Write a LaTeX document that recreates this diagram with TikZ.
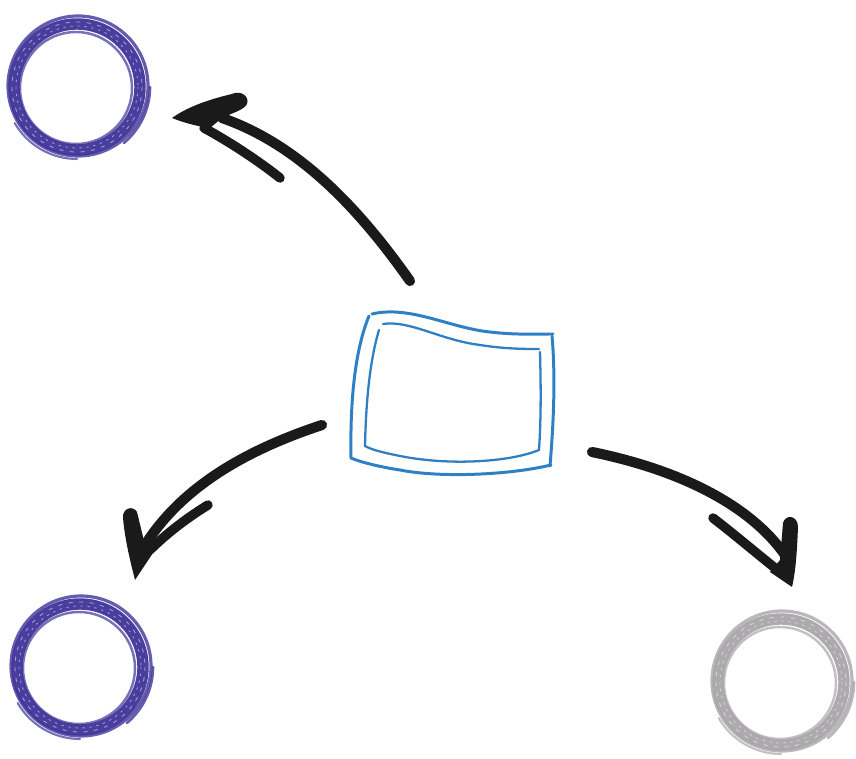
\documentclass[tikz,border=0pt]{standalone}
\usetikzlibrary{calc}

\definecolor{inkpurple}{HTML}{3F3399}
\definecolor{inkgray}{HTML}{A9A5AA}
\definecolor{inkblue}{HTML}{2F7FC4}
\definecolor{inkblack}{HTML}{1A1A1A}

% sketchy ring round a named node
\newcommand{\sketchring}[2]{%
  \draw[#2, line width=6.5pt, opacity=.95] (#1) circle[radius=63];
  \draw[#2, line width=1.8pt, opacity=.8, shift={(#1)}] (1,-1) circle[radius=70];
  \draw[#2, line width=1.4pt, opacity=.7, shift={(#1)}] (-1,1) circle[radius=56];
  \draw[white, line width=.5pt, opacity=.5, dash pattern=on 1pt off 3pt, shift={(#1)}] (0,0) circle[radius=61];
  \draw[white, line width=.5pt, opacity=.5, dash pattern=on 2pt off 4pt, shift={(#1)}] (0,0) circle[radius=65];
  \draw[#2, line width=1.5pt, opacity=.8, shift={(#1)}] (73,0) arc[start angle=0, end angle=50, radius=73];
  \draw[#2, line width=1.2pt, opacity=.7, shift={(#1)}] (0,72) arc[start angle=90, end angle=150, radius=72];
}

\begin{document}
\begin{tikzpicture}[x=0.02cm, y=-0.02cm, line cap=round, line join=round,
    shaft/.style={draw=inkblack, line width=5.8pt},
    barb/.style={draw=inkblack, line width=5.4pt},
    wedge/.style={fill=inkblack},
    frame/.style={draw=inkblue, line width=1.7pt},
    spot/.style={circle, minimum size=2.9cm, inner sep=0pt}]

  \useasboundingbox (0,0) rectangle (856,759);

  % 1. nodes
  \node[spot] (topleft) at (77,87) {};
  \node[spot] (botleft) at (80,667) {};
  \node[spot] (botright) at (781,682) {};
  \node[minimum width=4cm, minimum height=3cm] (screen) at (451,392) {};

  \sketchring{topleft}{inkpurple}
  \sketchring{botleft}{inkpurple}
  \sketchring{botright}{inkgray}

  % 2. the box
  \draw[frame] (372,314) .. controls (410,305) and (450,328) .. (490,332)
    .. controls (515,335) and (535,334) .. (553,334);
  \draw[frame] (552,336) .. controls (556,380) and (553,430) .. (550,466);
  \draw[frame] (551,465) .. controls (510,475) and (440,478) .. (400,470)
    .. controls (380,467) and (360,462) .. (351,458);
  \draw[frame] (351,458) .. controls (350,400) and (355,350) .. (369,316);
  \draw[frame, line width=1.3pt] (383,324) .. controls (410,320) and (440,340) .. (480,345)
    .. controls (505,349) and (525,349) .. (539,349);
  \draw[frame, line width=1.3pt] (540,352) .. controls (541,390) and (541,420) .. (539,450);
  \draw[frame, line width=1.3pt] (539,450) .. controls (510,462) and (450,466) .. (400,456)
    .. controls (385,453) and (372,450) .. (365,446);
  \draw[frame, line width=1.3pt] (365,446) .. controls (366,400) and (370,360) .. (379,330);

  % 3. arrows
  \coordinate (a1-from) at (410,281);
  \coordinate (a1-to) at (222,118);
  \coordinate (a2-from) at (322,425);
  \coordinate (a2-to) at (145,545);
  \coordinate (a3-from) at (592,452);
  \coordinate (a3-to) at (785,555);

  \draw[shaft] (a1-from) .. controls (360,210) and (300,145) .. (a1-to);
  \fill[wedge] (172,118) .. controls (190,105) and (215,98) .. (232,94)
    .. controls (240,90) and (250,96) .. (247,104)
    .. controls (244,110) and (232,113) .. (222,118) -- (210,128)
    .. controls (195,126) and (182,122) .. cycle;
  \draw[barb] (204,128) .. controls (230,142) and (260,162) .. (280,178);

  \draw[shaft] (a2-from) .. controls (240,452) and (180,490) .. (a2-to);
  \fill[wedge] (123,518) .. controls (122,508) and (133,505) .. (137,512)
    -- (145,545) -- (155,550) -- (135,580)
    .. controls (130,560) and (125,540) .. cycle;
  \draw[barb] (150,550) .. controls (168,532) and (190,516) .. (208,505);

  \draw[shaft] (a3-from) .. controls (680,470) and (750,505) .. (a3-to);
  \fill[wedge] (783,523) .. controls (785,514) and (798,515) .. (798,527)
    .. controls (797,550) and (796,570) .. (792,587) -- (770,572) -- (780,560) -- cycle;
  \draw[barb] (713,518) .. controls (735,535) and (755,552) .. (775,568);
\end{tikzpicture}
\end{document}
